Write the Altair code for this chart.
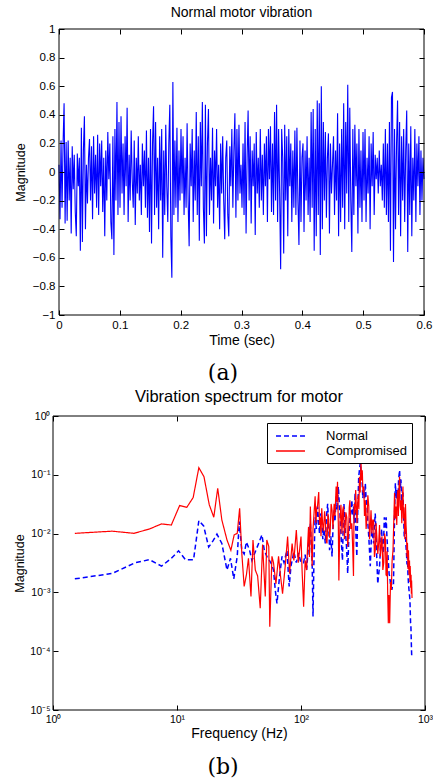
import altair as alt
import pandas as pd

# ---------------- data ----------------
signal_duration = 0.6  # seconds
signal_values = [
    0.05, -0.33, 0.22, -0.25, 0.2, 0.48, -0.36, 0.21, -0.34, 0.22, -0.2, 0.1, -0.43, 0.18, -0.12,
    0.12, -0.28, -0.45, 0.13, -0.1, 0.1, -0.55, 0.31, -0.49, 0.15, 0.39, -0.40, 0.05, -0.22, 0.1,
    0.23, -0.2, 0.18, -0.33, 0.25, -0.15, 0.12, -0.25, 0.26, -0.3, 0.2, -0.1, 0.22, -0.28, 0.1,
    -0.45, 0.15, -0.2, 0.28, -0.05, 0.2, -0.35, -0.47, 0.25, -0.58, 0.3, -0.2, 0.49, -0.3, 0.35,
    -0.25, 0.39, -0.15, 0.2, -0.3, 0.25, -0.1, 0.45, -0.35, 0.12, -0.2, 0.29, -0.05, -0.25, 0.22,
    -0.37, 0.1, -0.15, 0.25, -0.2, 0.05, -0.3, 0.2, -0.1, 0.15, -0.25, 0.29, -0.32, 0.1, -0.42,
    0.3, -0.5, 0.2, 0.46, -0.3, 0.35, -0.25, 0.1, -0.4, 0.25, -0.2, 0.3, -0.6, 0.15, -0.3,
    0.33, -0.1, -0.35, 0.2, 0.47, -0.45, -0.74, 0.63, -0.3, 0.22, -0.25, 0.31, -0.35, 0.15, -0.2,
    0.3, -0.15, 0.25, -0.3, 0.1, -0.25, 0.34, -0.2, -0.52, 0.2, -0.1, 0.3, -0.35, 0.15, -0.2,
    0.42, -0.3, 0.25, -0.48, 0.35, -0.1, 0.49, -0.25, -0.5, 0.47, -0.45, 0.2, 0.44, -0.3, 0.1,
    -0.2, 0.31, -0.36, 0.15, -0.1, 0.3, -0.25, 0.05, -0.4, 0.2, -0.15, 0.25, -0.2, -0.47, 0.1,
    0.22, -0.3, -0.45, 0.18, -0.1, 0.3, -0.25, 0.15, 0.41, -0.32, 0.3, -0.2, 0.33, -0.15, 0.05,
    -0.25, 0.2, -0.3, 0.35, -0.43, 0.1, 0.43, -0.2, 0.25, -0.36, 0.15, -0.1, 0.2, -0.44, 0.28,
    -0.15, 0.1, -0.25, 0.3, -0.2, 0.12, -0.3, 0.2, -0.1, 0.25, -0.35, 0.3, -0.05, 0.32, -0.28,
    0.2, -0.3, 0.42, -0.2, 0.47, -0.35, 0.3, -0.15, -0.68, 0.3, 0.1, -0.57, 0.33, -0.2, 0.25,
    -0.45, 0.3, -0.1, 0.2, -0.35, 0.15, -0.25, 0.29, -0.3, 0.31, -0.2, -0.51, 0.22, -0.35, 0.1,
    0.2, -0.42, 0.15, -0.2, 0.25, -0.3, 0.1, -0.35, 0.42, -0.25, 0.44, -0.55, 0.3, -0.45, 0.5,
    -0.3, 0.48, -0.58, 0.6, -0.4, 0.35, -0.2, 0.28, -0.32, 0.1, 0.27, -0.43, 0.2, -0.15, 0.05,
    0.25, -0.3, 0.15, -0.2, 0.41, -0.45, 0.2, -0.35, 0.3, -0.25, 0.48, -0.4, 0.35, -0.15, 0.61,
    -0.35, 0.45, -0.2, -0.56, 0.3, -0.3, 0.33, -0.1, 0.2, -0.43, 0.3, -0.25, 0.15, -0.35, 0.28,
    -0.2, 0.3, -0.35, 0.1, -0.15, 0.25, -0.4, 0.2, -0.1, 0.28, -0.3, 0.12, -0.05, 0.1, -0.15,
    0.15, -0.1, 0.05, -0.2, 0.2, -0.25, 0.3, -0.3, 0.2, -0.35, 0.35, -0.55, 0.52, 0.56, -0.63,
    0.3, -0.4, 0.2, 0.5, -0.3, 0.35, -0.45, 0.25, -0.2, 0.3, -0.35, 0.15, 0.43, -0.56, 0.2,
    -0.3, 0.32, -0.45, 0.1, -0.2, 0.3, -0.35, 0.2, -0.1, 0.25, -0.3, 0.15, -0.2, 0.1, -0.05,
]

normal_freq = [
    1.5, 3.0, 4.6, 6.0, 7.5, 9.0, 10.3, 11.7, 13.6, 15.0,
    16.4, 18.0, 19.5, 21.0, 23.0, 25.3, 27.0, 28.7, 30.6, 31.8,
    33.3, 34.8, 36.3, 38.5, 40.2, 42.8, 45.5, 48.4, 50.6, 53.0,
    55.6, 58.0, 60.0, 62.0, 64.0, 67.2, 70.3, 73.0, 77.0, 80.3,
    83.0, 87.6, 91.7, 95.5, 99.9, 105, 108, 111, 115, 119,
    121, 123, 125, 127, 130, 133, 136, 139, 141, 144,
    147, 150, 153, 157, 160, 164, 167, 170, 174, 178,
    181, 185, 188, 192, 196, 200, 204, 207, 211, 216,
    219, 222, 227, 232, 235, 238, 243, 248, 252, 257,
    261, 265, 269, 273, 277, 282, 287, 292, 296, 301,
    305, 310, 315, 321, 326, 330, 335, 341, 346, 352,
    357, 362, 367, 373, 379, 385, 391, 397, 403, 409,
    416, 423, 430, 436, 441, 447, 453, 460, 465, 470,
    478, 486, 493, 500, 508, 514, 519, 527, 535, 540,
    548, 557, 563, 570, 577, 585, 595, 604, 612, 618,
    624, 632, 640, 648, 656, 664, 672, 680, 688, 696,
    703, 709, 716, 722, 729, 736, 743, 750, 756, 760,
    765, 769, 775, 780, 783,
]
normal_mag = [
    1.7e-3, 2.1e-3, 3.2e-3, 3.6e-3, 2.8e-3, 3.8e-3, 5.1e-3, 3.6e-3, 3.6e-3, 1.66e-2,
    1.35e-2, 5.9e-3, 7.5e-3, 9.8e-3, 6.8e-3, 2.4e-3, 3.8e-3, 1.7e-3, 4.1e-3, 1.6e-2,
    5.2e-3, 4.5e-3, 7.2e-3, 5.2e-3, 3.5e-3, 4.9e-3, 6.8e-3, 9.5e-3, 5.2e-3, 4.1e-3,
    3.5e-3, 3.0e-3, 2.4e-3, 1.1e-3, 6.5e-4, 1.9e-3, 4.1e-3, 3.2e-3, 5.2e-3, 1.26e-3,
    2.8e-3, 4.9e-3, 3.2e-3, 4.7e-3, 3.2e-3, 3.2e-3, 4.4e-3, 2.4e-3, 6.5e-3, 1.5e-2,
    6.0e-3, 3.2e-3, 3.9e-4, 3.0e-3, 1.9e-2, 1.2e-2, 2.9e-2, 1.5e-2, 1.0e-2, 2.2e-2,
    1.7e-2, 8.0e-3, 1.2e-2, 6.8e-3, 1.8e-2, 3.2e-2, 1.5e-2, 5.2e-3, 9.0e-3, 4.1e-3,
    1.2e-2, 2.5e-2, 1.6e-2, 4.3e-2, 2.5e-2, 6.3e-2, 3.0e-2, 1.9e-2, 8.0e-3, 3.5e-3,
    1.5e-2, 3.2e-2, 1.2e-2, 6.8e-3, 4.0e-3, 2.1e-3, 9.0e-3, 1.9e-2, 2.2e-2, 3.7e-2,
    2.0e-2, 2.9e-2, 1.5e-2, 4.9e-2, 1.0e-2, 4.1e-3, 2.5e-2, 9.3e-2, 1.2e-1, 1.6e-1,
    1.1e-1, 9.3e-2, 4.0e-2, 5.5e-2, 4.0e-2, 7.2e-2, 4.0e-2, 2.9e-2, 1.5e-2, 8.9e-3,
    5.0e-3, 2.8e-3, 6.0e-3, 1.3e-2, 9.0e-3, 6.8e-3, 1.4e-2, 2.2e-2, 1.0e-2, 3.5e-3,
    1.4e-3, 2.0e-3, 2.8e-3, 5.0e-3, 7.8e-3, 1.2e-2, 6.0e-3, 4.6e-3, 9.0e-3, 1.9e-2,
    1.2e-2, 1.9e-2, 9.0e-3, 5.2e-3, 3.0e-3, 2.0e-3, 1.9e-3, 1.4e-3, 1.6e-3, 1.1e-3,
    1.3e-3, 1.4e-3, 6.0e-3, 3.0e-2, 7.2e-2, 4.0e-2, 5.5e-2, 3.0e-2, 8.0e-2, 1.0e-1,
    1.2e-1, 6.0e-2, 8.3e-2, 3.5e-2, 5.0e-2, 4.9e-2, 2.0e-2, 8.9e-3, 1.5e-2, 1.0e-2,
    6.0e-3, 4.6e-3, 3.0e-3, 4.0e-3, 2.0e-3, 1.4e-3, 1.1e-3, 9.0e-4, 7.4e-4, 5.0e-4,
    3.0e-4, 2.9e-4, 1.5e-4, 9.1e-5, 8.0e-5,
]

comp_freq = [
    1.5, 3.0, 4.5, 6.0, 7.5, 9.0, 10.5, 12.0, 13.5, 15.0,
    16.5, 18.2, 19.8, 21.3, 23.0, 25.3, 27.2, 28.9, 30.6, 32.0,
    33.3, 34.8, 36.3, 37.7, 39.5, 41.0, 42.8, 44.7, 46.9, 49.0,
    51.5, 53.0, 55.0, 56.0, 58.3, 60.0, 62.8, 65.9, 68.0, 71.0,
    74.6, 78.0, 80.9, 84.8, 87.6, 91.7, 95.0, 100, 102, 105,
    108, 111, 113, 115, 117, 119, 121, 123, 125, 127,
    130, 132, 134, 136, 139, 141, 143, 145, 147, 150,
    152, 155, 157, 160, 162, 165, 167, 170, 172, 175,
    178, 181, 185, 188, 192, 195, 197, 200, 202, 205,
    207, 210, 214, 217, 220, 224, 227, 230, 234, 238,
    242, 245, 248, 252, 257, 261, 265, 268, 272, 276,
    280, 283, 286, 290, 293, 296, 300, 303, 305, 308,
    312, 316, 321, 325, 330, 335, 341, 346, 352, 357,
    362, 367, 373, 379, 385, 391, 397, 403, 409, 416,
    423, 430, 436, 443, 450, 457, 465, 472, 480, 485,
    490, 495, 500, 506, 512, 519, 527, 535, 543, 552,
    560, 568, 576, 585, 592, 598, 604, 610, 617, 624,
    630, 637, 643, 650, 657, 664, 670, 675, 680, 688,
    696, 703, 709, 716, 722, 729, 736, 743, 750, 755,
    760, 767, 772, 776, 780, 786,
]
comp_mag = [
    1.01e-2, 1.1e-2, 1.01e-2, 1.2e-2, 1.46e-2, 1.4e-2, 3.0e-2, 2.8e-2, 4.1e-2, 1.32e-1,
    9.3e-2, 3.1e-2, 1.9e-2, 5.9e-2, 1.7e-2, 7.8e-3, 5.2e-3, 9.5e-3, 1.01e-2, 2.7e-2,
    4.7e-3, 1.26e-3, 2.0e-3, 3.8e-3, 8.5e-4, 7.8e-3, 2.4e-3, 1.9e-3, 5.4e-4, 6.5e-3,
    8.5e-4, 7.8e-3, 6.0e-3, 2.6e-4, 4.1e-3, 3.2e-3, 1.4e-3, 4.1e-3, 2.1e-3, 9.5e-4,
    2.8e-3, 8.9e-3, 2.1e-3, 6.8e-3, 3.5e-3, 1.15e-2, 3.2e-3, 8.9e-3, 2.4e-3, 5.7e-4,
    3.5e-3, 2.4e-3, 6.0e-3, 1.3e-2, 4.0e-3, 2.9e-2, 8.0e-3, 2.8e-3, 1.2e-2, 2.0e-2,
    4.3e-2, 1.5e-2, 2.7e-2, 3.0e-2, 5.1e-2, 1.4e-2, 1.9e-2, 9.0e-3, 2.7e-2, 1.3e-2,
    1.1e-2, 2.4e-2, 1.7e-2, 7.5e-3, 6.8e-3, 2.2e-2, 1.7e-2, 8.5e-3, 1.1e-2, 3.2e-2,
    2.5e-2, 1.2e-2, 3.2e-2, 2.0e-2, 6.3e-2, 3.5e-2, 7.6e-2, 1.4e-2, 1.6e-3, 9.0e-3,
    1.9e-2, 3.1e-2, 1.0e-2, 2.5e-2, 2.9e-2, 8.0e-3, 1.3e-2, 2.3e-2, 1.9e-2, 6.0e-3,
    1.0e-2, 2.8e-2, 3.7e-2, 1.2e-2, 1.5e-2, 6.0e-3, 1.9e-3, 3.2e-2, 2.2e-2, 5.5e-2,
    2.5e-2, 1.5e-2, 3.2e-2, 4.5e-2, 2.6e-2, 9.3e-2, 5.0e-2, 1.2e-1, 1.6e-1, 8.0e-2,
    1.2e-1, 5.0e-2, 6.3e-2, 2.0e-2, 3.7e-2, 1.2e-2, 1.9e-2, 4.5e-2, 2.9e-2, 8.0e-3,
    1.3e-2, 2.5e-2, 1.0e-2, 1.7e-2, 1.7e-2, 4.0e-3, 5.2e-3, 1.5e-2, 8.9e-3, 4.5e-3,
    6.8e-3, 1.4e-2, 4.1e-3, 6.0e-3, 8.9e-3, 2.4e-3, 3.2e-3, 1.0e-2, 7.8e-3, 2.0e-3,
    1.9e-3, 5.0e-3, 1.0e-3, 3.0e-4, 9.0e-4, 3.0e-4, 1.5e-3, 1.1e-3, 3.5e-3, 5.2e-3,
    1.6e-2, 4.9e-2, 1.8e-2, 2.9e-2, 1.4e-2, 4.5e-2, 5.5e-2, 2.0e-2, 6.0e-2, 9.3e-2,
    3.0e-2, 2.5e-2, 3.7e-2, 1.5e-2, 4.0e-2, 6.3e-2, 1.8e-2, 2.8e-2, 1.9e-2, 8.0e-3,
    3.2e-2, 1.4e-2, 1.0e-2, 4.0e-3, 7.0e-3, 2.5e-3, 5.2e-3, 2.0e-3, 3.5e-3, 1.5e-3,
    2.8e-3, 1.2e-3, 2.0e-3, 9.5e-4, 1.6e-3, 8.0e-4,
]

series_names = ["Normal", "Compromised"]
series_colors = ["#0000ff", "#ff0000"]
series_dashes = [[5, 3], [1, 0]]

time_ticks = [0, 0.1, 0.2, 0.3, 0.4, 0.5, 0.6]
amp_ticks = [-1, -0.8, -0.6, -0.4, -0.2, 0, 0.2, 0.4, 0.6, 0.8, 1]
freq_ticks = [1, 10, 100, 1000]
spec_ticks = [1e-5, 1e-4, 1e-3, 1e-2, 1e-1, 1]

# ---------------- tables ----------------
n = len(signal_values)
sig_df = pd.DataFrame({"t": [i * signal_duration / (n - 1) for i in range(n)],
                       "v": signal_values})
normal_df = pd.DataFrame({"f": normal_freq, "m": normal_mag, "series": "Normal"})
comp_df = pd.DataFrame({"f": comp_freq, "m": comp_mag, "series": "Compromised"})
one_df = pd.DataFrame({"k": [0]})

FONT = "Liberation Sans"
common = dict(tickSize=5, tickColor="black", tickWidth=1, domain=False, grid=False,
              labelFont=FONT, titleFont=FONT, labelColor="black", titleColor="black",
              titleFontWeight="normal", labelFlush=False, labelOverlap=False, zindex=1)

# ---------------- panel (a) ----------------
TW, TH = 371, 286
x_top = alt.Scale(domain=[0, 0.6], range=[6, TW], nice=False, zero=False)
y_top = alt.Scale(domain=[-1, 1], nice=False, zero=False)

line_a = alt.Chart(sig_df).mark_line(color="#0000ff", strokeWidth=1.1).encode(
    x=alt.X("t:Q", scale=x_top,
            axis=alt.Axis(orient="bottom", values=time_ticks, format=".1~f", offset=-5,
                          labelPadding=4, labelFontSize=11.5, title="Time (sec)",
                          titleFontSize=14, titlePadding=3, **common)),
    y=alt.Y("v:Q", scale=y_top,
            axis=alt.Axis(orient="left", values=amp_ticks, format=".1~f", offset=-11,
                          labelPadding=4, labelFontSize=11.5, title="Magnitude",
                          titleFontSize=12.5, titlePadding=5, **common)),
)
box_a = alt.Chart(one_df).mark_rect(fillOpacity=0, stroke="black", strokeWidth=1).encode(
    x=alt.XDatum(0, type="quantitative",
                 axis=alt.Axis(orient="top", values=time_ticks, labels=False, offset=-5,
                               title=None, **common)),
    x2=alt.X2Datum(0.6),
    y=alt.YDatum(-1, type="quantitative",
                 axis=alt.Axis(orient="right", values=amp_ticks, labels=False, offset=-5,
                               title=None, **common)),
    y2=alt.Y2Datum(1),
)
label_a = alt.Chart(one_df).mark_text(text="(a)", font="DejaVu Serif", fontSize=22,
                                      color="black").encode(
    x=alt.value(170), y=alt.value(344))

panel_a = alt.layer(line_a, box_a, label_a).resolve_axis(
    x="independent", y="independent").properties(
    width=TW, height=TH,
    title=alt.Title("Normal motor vibration", fontSize=14, font=FONT,
                    fontWeight="normal", color="black", offset=3, dx=3))

# ---------------- panel (b) ----------------
BW, BH = 372, 294
x_bot = alt.Scale(type="log", domain=[1, 1000], nice=False)
y_bot = alt.Scale(type="log", domain=[1e-5, 1], nice=False)
x_lab = ("'10' + (datum.value < 5 ? '\u2070' : datum.value < 50 ? '\u00b9' : "
         "datum.value < 500 ? '\u00b2' : '\u00b3')")
y_lab = ("'10' + (datum.value > 0.5 ? '\u2070' : datum.value > 0.05 ? '\u207b\u00b9' : "
         "datum.value > 0.005 ? '\u207b\u00b2' : datum.value > 0.0005 ? '\u207b\u00b3' : "
         "datum.value > 0.00005 ? '\u207b\u2074' : '\u207b\u2075')")

# legend lives at the top level of the concatenation: position relative to panel (a) origin
legend = alt.Legend(title=None, orient="none", legendX=214, legendY=394,
                    symbolType="M-0.57,0H3.57", symbolSize=196, symbolStrokeWidth=1.5,
                    labelFont=FONT, labelFontSize=13, labelColor="black",
                    strokeColor="black", fillColor="white", padding=5,
                    labelOffset=38, rowPadding=0, labelLimit=300)
color_enc = alt.Color("series:N", scale=alt.Scale(domain=series_names, range=series_colors),
                      legend=legend)
dash_enc = alt.StrokeDash("series:N", scale=alt.Scale(domain=series_names, range=series_dashes),
                          legend=legend)

x_enc = alt.X("f:Q", scale=x_bot,
              axis=alt.Axis(orient="bottom", values=freq_ticks, labelExpr=x_lab, offset=-5,
                            labelPadding=4, labelFontSize=10.5, title="Frequency (Hz)",
                            titleFontSize=14, titlePadding=2, **common))
y_enc = alt.Y("m:Q", scale=y_bot,
              axis=alt.Axis(orient="left", values=spec_ticks, labelExpr=y_lab, offset=-5,
                            labelPadding=3, labelFontSize=10.5, title="Magnitude",
                            titleFontSize=12.5, titlePadding=3, **common))

line_n = alt.Chart(normal_df).mark_line(strokeWidth=1.5).encode(
    x=x_enc, y=y_enc, color=color_enc, strokeDash=dash_enc)
line_c = alt.Chart(comp_df).mark_line(strokeWidth=1.2).encode(
    x=alt.X("f:Q", scale=x_bot, axis=None),
    y=alt.Y("m:Q", scale=y_bot, axis=None),
    color=color_enc, strokeDash=dash_enc)
box_b = alt.Chart(one_df).mark_rect(fillOpacity=0, stroke="black", strokeWidth=1).encode(
    x=alt.XDatum(1, type="quantitative",
                 axis=alt.Axis(orient="top", values=freq_ticks, labels=False, offset=-5,
                               title=None, **common)),
    x2=alt.X2Datum(1000),
    y=alt.YDatum(1e-5, type="quantitative",
                 axis=alt.Axis(orient="right", values=spec_ticks, labels=False, offset=-5,
                               title=None, **common)),
    y2=alt.Y2Datum(1),
)
label_b = alt.Chart(one_df).mark_text(text="(b)", font="DejaVu Serif", fontSize=22,
                                      color="black").encode(
    x=alt.value(170), y=alt.value(351))

panel_b = alt.layer(line_n, line_c, box_b, label_b).resolve_axis(
    x="independent", y="independent").properties(
    width=BW, height=BH,
    title=alt.Title("Vibration spectrum for motor", fontSize=16.5, font=FONT,
                    fontWeight="normal", color="black", offset=6))

chart = alt.vconcat(panel_a, panel_b, spacing=101, bounds="flush").properties(
    padding={"left": 13, "top": 6, "right": 0, "bottom": 0}
).configure_view(stroke=None)

chart.save("out.html", embed_options={"renderer": "svg", "actions": False})
